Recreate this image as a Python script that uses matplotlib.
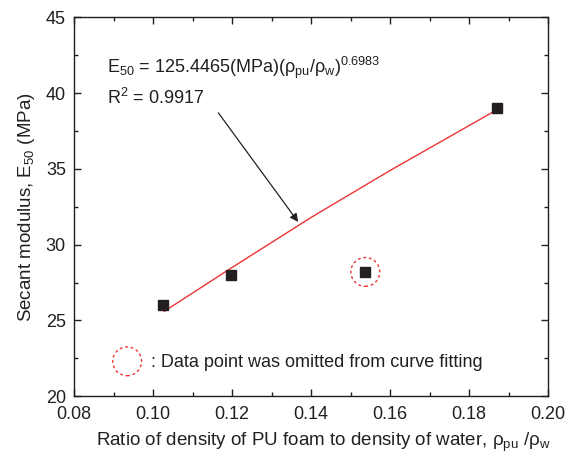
import matplotlib
matplotlib.use('Agg')
import matplotlib.pyplot as plt
from matplotlib.ticker import MultipleLocator, FormatStrFormatter

plt.rcParams['font.family'] = ['Liberation Sans', 'DejaVu Sans']
plt.rcParams['mathtext.fontset'] = 'custom'
plt.rcParams['mathtext.rm'] = 'Liberation Sans'
plt.rcParams['mathtext.it'] = 'Liberation Sans'
plt.rcParams['mathtext.default'] = 'regular'

# measured points (ratio of density, secant modulus E50 in MPa)
ratio = [0.1025, 0.1196, 0.1537, 0.1870]
e50 = [26.0, 28.0, 28.2, 39.0]

# the point left out of the curve fit
omitted_x = [0.1537]
omitted_y = [28.2]

# fitted curve
fit_x = [0.1028, 0.12, 0.14, 0.16, 0.187]
fit_y = [25.6, 28.5, 31.8, 34.9, 38.9]

dark = '#231f20'
red = '#ee3333'
fs = 13

fig = plt.figure(figsize=(5.71, 4.58), dpi=100)
ax = fig.add_axes([0.130, 0.135, 0.830, 0.827])

ax.plot(fit_x, fit_y, color=red, lw=1.0, zorder=2)
ax.plot(ratio, e50, 's', color=dark, markersize=6.5, zorder=3)
ax.scatter(omitted_x, omitted_y, s=430, facecolors='none', edgecolors=red,
           linewidths=1.0, linestyles=(0, (2, 2)), zorder=3)

ax.annotate('', xy=(0.1367, 31.5), xytext=(0.1165, 38.7),
            arrowprops=dict(arrowstyle='-|>', color=dark, lw=0.9,
                            mutation_scale=12, shrinkA=0, shrinkB=0))
ax.text(0.0882, 41.66, r'E$_{50}$ = 125.4465(MPa)($\rho_{pu}$/$\rho_w$)$^{0.6983}$',
        fontsize=fs, color=dark, va='center')
ax.text(0.0882, 39.68, r'R$^2$ = 0.9917', fontsize=fs, color=dark, va='center')

# key for the dashed circle
ax.scatter([0.0934], [22.3], s=430, facecolors='none', edgecolors=red,
           linewidths=1.0, linestyles=(0, (2, 2)), clip_on=False)
ax.text(0.0995, 22.25, ': Data point was omitted from curve fitting',
        fontsize=fs, color=dark, va='center')

ax.set_xlim(0.08, 0.20)
ax.set_ylim(20, 45)
ax.xaxis.set_major_locator(MultipleLocator(0.02))
ax.xaxis.set_minor_locator(MultipleLocator(0.01))
ax.yaxis.set_major_locator(MultipleLocator(5))
ax.yaxis.set_minor_locator(MultipleLocator(2.5))
ax.xaxis.set_major_formatter(FormatStrFormatter('%.2f'))
ax.tick_params(which='both', direction='in', top=True, right=True,
               labelsize=fs, colors=dark, width=1.0)
ax.tick_params(which='major', length=5)
ax.tick_params(which='minor', length=3)
ax.tick_params(axis='x', pad=7)
ax.tick_params(axis='y', pad=6)
for s in ax.spines.values():
    s.set_linewidth(1.0)
    s.set_color(dark)

ax.set_xlabel(r'Ratio of density of PU foam to density of water, $\rho_{pu}$ /$\rho_w$',
              fontsize=13.5, color=dark, labelpad=6)
ax.xaxis.label.set_x(0.525)
ax.set_ylabel(r'Secant modulus, E$_{50}$ (MPa)', fontsize=13.5, color=dark, labelpad=6)

fig.savefig('out.png', dpi=100)
